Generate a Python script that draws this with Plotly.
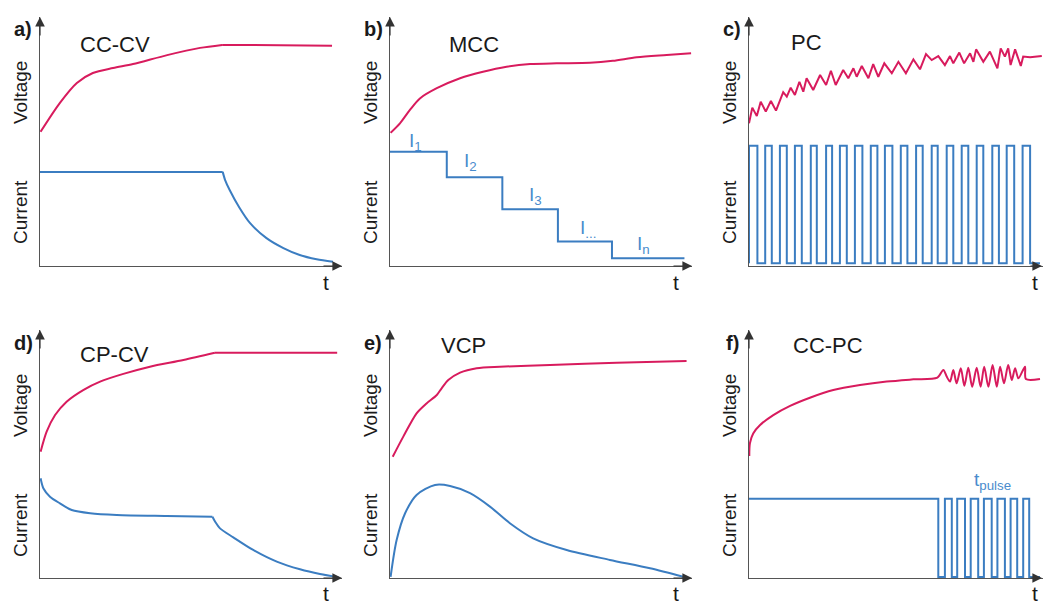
import plotly.graph_objects as go

W, H = 1043, 604
RED = "#d81b5d"
BLUE = "#3b7dc1"
LABEL_BLUE = "#4a8ccd"
AXIS = "#555555"
TEXT = "#1a1a1a"
FONT = "Liberation Sans, Arial, sans-serif"

# ---------------- a) CC-CV ----------------
a_v_cc_t = [0.2, 6.6, 12.2, 17.5, 24.2, 30.8, 42.1, 53.0, 60.3]
a_v_cc = [53.9, 65.5, 73.5, 77.5, 79.5, 81.1, 84.7, 87.6, 88.8]
a_v_cv_t = [60.3, 96.7]
a_v_cv = [88.8, 88.5]
a_i_cc_t = [0, 60.5]
a_i_cc = [37.8, 37.8]
a_i_cv_t = [60.5, 61.3, 62.8, 66.0, 69.5, 75.0, 80.6, 86.0, 91.6, 97.0]
a_i_cv = [37.8, 34.5, 30.5, 23.5, 17.3, 11.2, 7.2, 4.4, 2.7, 1.7]

# ---------------- b) MCC ----------------
b_v_t = [0.2, 3.3, 6.6, 9.9, 15.5, 23.2, 30.8, 38.6, 46.4, 55.2, 66.2, 73.8, 81.7, 91.6, 99.7]
b_v = [53.5, 57.3, 62.7, 67.3, 71.4, 75.4, 78.0, 80.0, 81.1, 81.4, 81.6, 82.4, 83.8, 84.7, 85.4]
b_step_edges = [0, 18.8, 37.2, 55.6, 73.5, 97.5]
b_step_levels = [45.9, 35.6, 22.8, 9.8, 3.1]
b_step_labels = ["I<sub>1</sub>", "I<sub>2</sub>", "I<sub>3</sub>", "I<sub>...</sub>", "I<sub>n</sub>"]
b_label_t = [8.6, 26.8, 48.3, 65.6, 83.8]
b_label_y = [49.8, 41.8, 28.1, 14.9, 8.4]

# ---------------- c) PC ----------------
c_v_t = [0, 1.1, 2.6, 3.9, 5.6, 7.3, 9.0, 11.4, 12.6, 13.9, 15.3, 16.8, 18.1, 19.2, 21.4,
         23.7, 25.7, 27.3, 28.9, 31.4, 33.1, 34.8, 35.9, 37.6, 39.8, 41.4, 43.1, 45.1, 47.6,
         49.8, 52.3, 54.8, 57.0, 59.0, 60.9, 63.1, 65.3, 67.0, 68.1, 70.1, 71.7, 73.7, 74.8,
         75.7, 78.1, 80.3, 82.8, 83.9, 85.3, 86.4, 87.2, 88.7, 90.6, 91.4, 93.7, 97.6]
c_v = [57.3, 63.6, 60.2, 66.0, 62.0, 66.3, 62.4, 69.8, 68.0, 71.6, 68.7, 74.0, 70.0, 75.4, 70.7,
       76.7, 72.7, 78.4, 72.7, 78.7, 75.4, 79.4, 76.0, 80.3, 75.4, 81.1, 76.0, 81.4, 77.4,
       82.0, 77.4, 83.0, 79.0, 85.1, 82.7, 84.3, 80.7, 84.3, 81.4, 85.7, 81.4, 85.4, 82.0,
       87.0, 82.0, 86.1, 79.4, 87.4, 84.1, 87.4, 80.7, 87.0, 80.3, 84.1, 83.8, 84.3]
c_pulse_on = [0, 5.4, 10.3, 15.3, 20.6, 25.7, 30.3, 35.3, 40.6, 45.3, 50.6, 55.7, 60.9,
              65.9, 70.9, 75.9, 81.1, 85.9, 91.2]
c_pulse_off = [2.8, 7.6, 12.6, 17.6, 22.6, 27.7, 32.6, 37.8, 42.8, 47.8, 52.8, 57.9, 62.9,
               68.1, 73.1, 78.1, 83.3, 88.4, 93.7]
c_i_high = 48.3
c_i_low = 1.1
c_t_end = 97.0

# ---------------- d) CP-CV ----------------
d_v_cp_t = [0.2, 2.2, 5.0, 8.8, 14.3, 19.9, 27.6, 36.4, 47.5, 57.9]
d_v_cp = [50.9, 59.0, 65.7, 71.1, 75.8, 79.2, 82.3, 85.2, 87.9, 90.8]
d_v_cv_t = [57.9, 98.4]
d_v_cv = [90.8, 90.8]
d_i_cp_t = [0.2, 1.1, 3.3, 6.6, 10.5, 16.6, 25.4, 41.9, 57.1]
d_i_cp = [40.2, 36.2, 32.8, 30.1, 27.4, 26.1, 25.4, 25.0, 24.7]
d_i_cv_t = [57.1, 58.0, 59.6, 64.0, 70.6, 78.4, 86.1, 92.7, 98.8]
d_i_cv = [24.7, 22.7, 20.0, 16.4, 11.3, 6.6, 3.5, 1.6, 0.3]

# ---------------- e) VCP ----------------
e_v_t = [0.9, 4.4, 8.8, 12.1, 15.5, 17.1, 19.3, 23.2, 28.7, 36.4, 53.0, 75.1, 98.2]
e_v = [48.9, 57.0, 66.4, 70.4, 73.8, 76.5, 79.8, 82.8, 84.6, 85.2, 85.9, 86.8, 87.5]
e_i_t = [0.2, 2.2, 5.0, 8.8, 14.9, 19.9, 26.5, 33.1, 39.7, 47.4, 58.5, 72.8, 86.1, 97.1]
e_i = [0.5, 15.3, 26.1, 33.5, 37.5, 37.1, 34.2, 28.8, 22.1, 16.0, 11.3, 7.3, 3.9, 0.5]

# ---------------- f) CC-PC ----------------
f_v_t = [0.1, 0.3, 1.4, 3.7, 8.1, 13.7, 20.3, 28.1, 37.0, 45.9, 54.8, 62.8,
         64.8, 65.9, 67.0, 68.1, 69.2, 70.6, 71.8, 73.1, 74.4, 75.9, 77.2, 78.4, 79.8,
         81.2, 82.6, 83.7, 85.0, 86.4, 87.6, 88.7, 89.8, 92.0, 92.3, 97.0]
f_v = [49.2, 54.3, 58.3, 61.7, 65.7, 69.4, 72.7, 75.8, 77.8, 79.2, 80.1, 80.8,
       83.9, 81.2, 79.2, 83.9, 78.5, 84.6, 77.5, 84.8, 77.1, 84.8, 77.1, 85.2, 77.1,
       85.9, 77.1, 85.2, 78.5, 85.9, 79.8, 84.6, 80.5, 85.2, 80.2, 80.2]
f_cc_end = 63.1
f_pulse_on = [65.3, 69.4, 73.9, 78.3, 82.8, 87.2, 91.4]
f_pulse_off = [67.6, 72.0, 76.4, 80.9, 85.3, 89.4, 93.4]
f_i_high = 32.0
f_i_low = 0.4
f_t_end = 97.0
f_pulse_label = "t<sub>pulse</sub>"
f_label_t = 81.3
f_label_y = 39.1

# ---------------- panel text ----------------
panel_tags = ["a)", "b)", "c)", "d)", "e)", "f)"]
panel_titles = ["CC-CV", "MCC", "PC", "CP-CV", "VCP", "CC-PC"]
y_names = ["Voltage", "Current"]
x_name = "t"

# ---------------- layout geometry (pixels) ----------------
col_left = [40, 390, 749]
col_px_per_unit = [3.02, 3.02, 3.0]
row_base = [266, 578]
row_top = [17, 330]
title_left = [78, 447, 789, 78, 439, 791]
title_mid = [45, 44, 42.5, 354, 345, 345.5]
tag_mid = [29, 343]
vlabel_mid = [93, 406]
ilabel_mid = [212, 525]
tlabel_mid = [282, 593]


def px(x):
    return x / W


def py(y):
    return 1 - y / H


fig = go.Figure()
layout = dict(
    width=W, height=H, margin=dict(l=0, r=0, t=0, b=0),
    paper_bgcolor="white", plot_bgcolor="white", showlegend=False,
)
annotations = []

for k in range(6):
    row, col = divmod(k, 3)
    n = k + 1
    xa = "xaxis" if n == 1 else f"xaxis{n}"
    ya = "yaxis" if n == 1 else f"yaxis{n}"
    xr = "x" if n == 1 else f"x{n}"
    yr = "y" if n == 1 else f"y{n}"
    left = col_left[col]
    scale = col_px_per_unit[col]
    right_px = min(W, left + 100 * scale)
    layout[xa] = dict(
        domain=[px(left), px(right_px)], range=[0, (right_px - left) / scale],
        anchor=yr, showline=True, linecolor=AXIS, linewidth=1,
        showgrid=False, zeroline=False, showticklabels=False, ticks="", fixedrange=True,
    )
    layout[ya] = dict(
        domain=[py(row_base[row]), py(row_top[row])], range=[0, 100],
        anchor=xr, showline=True, linecolor=AXIS, linewidth=1,
        showgrid=False, zeroline=False, showticklabels=False, ticks="", fixedrange=True,
    )

    # axis arrowheads
    annotations.append(dict(
        xref="paper", yref="paper", x=px(left + 100 * scale), y=py(row_base[row]),
        ax=-20, ay=0, text="", showarrow=True, arrowhead=2, arrowsize=1.6,
        arrowwidth=1.2, arrowcolor="#333333"))
    annotations.append(dict(
        xref="paper", yref="paper", x=px(left), y=py(row_top[row]),
        ax=0, ay=20, text="", showarrow=True, arrowhead=2, arrowsize=1.6,
        arrowwidth=1.2, arrowcolor="#333333"))

    # panel tag and title
    annotations.append(dict(
        xref="paper", yref="paper", x=px(left - 17), y=py(tag_mid[row]),
        text=f"<b>{panel_tags[k]}</b>", showarrow=False, xanchor="center", yanchor="middle",
        font=dict(family=FONT, size=20, color=TEXT)))
    annotations.append(dict(
        xref="paper", yref="paper", x=px(title_left[k]), y=py(title_mid[k]),
        text=panel_titles[k], showarrow=False, xanchor="left", yanchor="middle",
        font=dict(family=FONT, size=22, color=TEXT)))
    # axis names
    annotations.append(dict(
        xref="paper", yref="paper", x=px(left - 20), y=py(vlabel_mid[row]),
        text=y_names[0], textangle=-90, showarrow=False, xanchor="center", yanchor="middle",
        font=dict(family=FONT, size=19, color=TEXT)))
    annotations.append(dict(
        xref="paper", yref="paper", x=px(left - 20), y=py(ilabel_mid[row]),
        text=y_names[1], textangle=-90, showarrow=False, xanchor="center", yanchor="middle",
        font=dict(family=FONT, size=19, color=TEXT)))
    annotations.append(dict(
        xref="paper", yref="paper", x=px(left + 285.5), y=py(tlabel_mid[row]),
        text=x_name, showarrow=False, xanchor="center", yanchor="middle",
        font=dict(family=FONT, size=21, color=TEXT)))


def add_line(n, t, v, color, shape="spline"):
    fig.add_trace(go.Scatter(
        x=t, y=v, mode="lines", xaxis="x" if n == 1 else f"x{n}",
        yaxis="y" if n == 1 else f"y{n}",
        line=dict(color=color, width=2, shape=shape, smoothing=0.8),
        hoverinfo="skip", showlegend=False))


def pulse_path(on, off, high, low, t_end, t0=None, level0=None):
    xs, ys = [], []
    if t0 is not None:
        xs += [0, t0, t0]
        ys += [level0, level0, low]
    for a, b in zip(on, off):
        xs += [a, a, b, b]
        ys += [low, high, high, low]
    xs.append(t_end)
    ys.append(low)
    return xs, ys


# a) CC-CV
add_line(1, a_v_cc_t, a_v_cc, RED)
add_line(1, a_v_cv_t, a_v_cv, RED, "linear")
add_line(1, a_i_cc_t, a_i_cc, BLUE, "linear")
add_line(1, a_i_cv_t, a_i_cv, BLUE)

# b) MCC
add_line(2, b_v_t, b_v, RED)
add_line(2, b_step_edges, b_step_levels + [b_step_levels[-1]], BLUE, "hv")
for lab, lt, ly in zip(b_step_labels, b_label_t, b_label_y):
    annotations.append(dict(
        xref="x2", yref="y2", x=lt, y=ly, text=lab, showarrow=False,
        xanchor="center", yanchor="middle",
        font=dict(family=FONT, size=19, color=LABEL_BLUE)))

# c) PC
add_line(3, c_v_t, c_v, RED, "linear")
cx, cy = pulse_path(c_pulse_on, c_pulse_off, c_i_high, c_i_low, c_t_end)
add_line(3, cx, cy, BLUE, "linear")

# d) CP-CV
add_line(4, d_v_cp_t, d_v_cp, RED)
add_line(4, d_v_cv_t, d_v_cv, RED, "linear")
add_line(4, d_i_cp_t, d_i_cp, BLUE)
add_line(4, d_i_cv_t, d_i_cv, BLUE)

# e) VCP
add_line(5, e_v_t, e_v, RED)
add_line(5, e_i_t, e_i, BLUE)

# f) CC-PC
add_line(6, f_v_t, f_v, RED)
fx, fy = pulse_path(f_pulse_on, f_pulse_off, f_i_high, f_i_low, f_t_end,
                    t0=f_cc_end, level0=f_i_high)
add_line(6, fx, fy, BLUE, "linear")
annotations.append(dict(
    xref="x6", yref="y6", x=f_label_t, y=f_label_y, text=f_pulse_label, showarrow=False,
    xanchor="center", yanchor="middle",
    font=dict(family=FONT, size=19, color=LABEL_BLUE)))

layout["annotations"] = annotations
fig.update_layout(**layout)
fig.write_html("out.html")
